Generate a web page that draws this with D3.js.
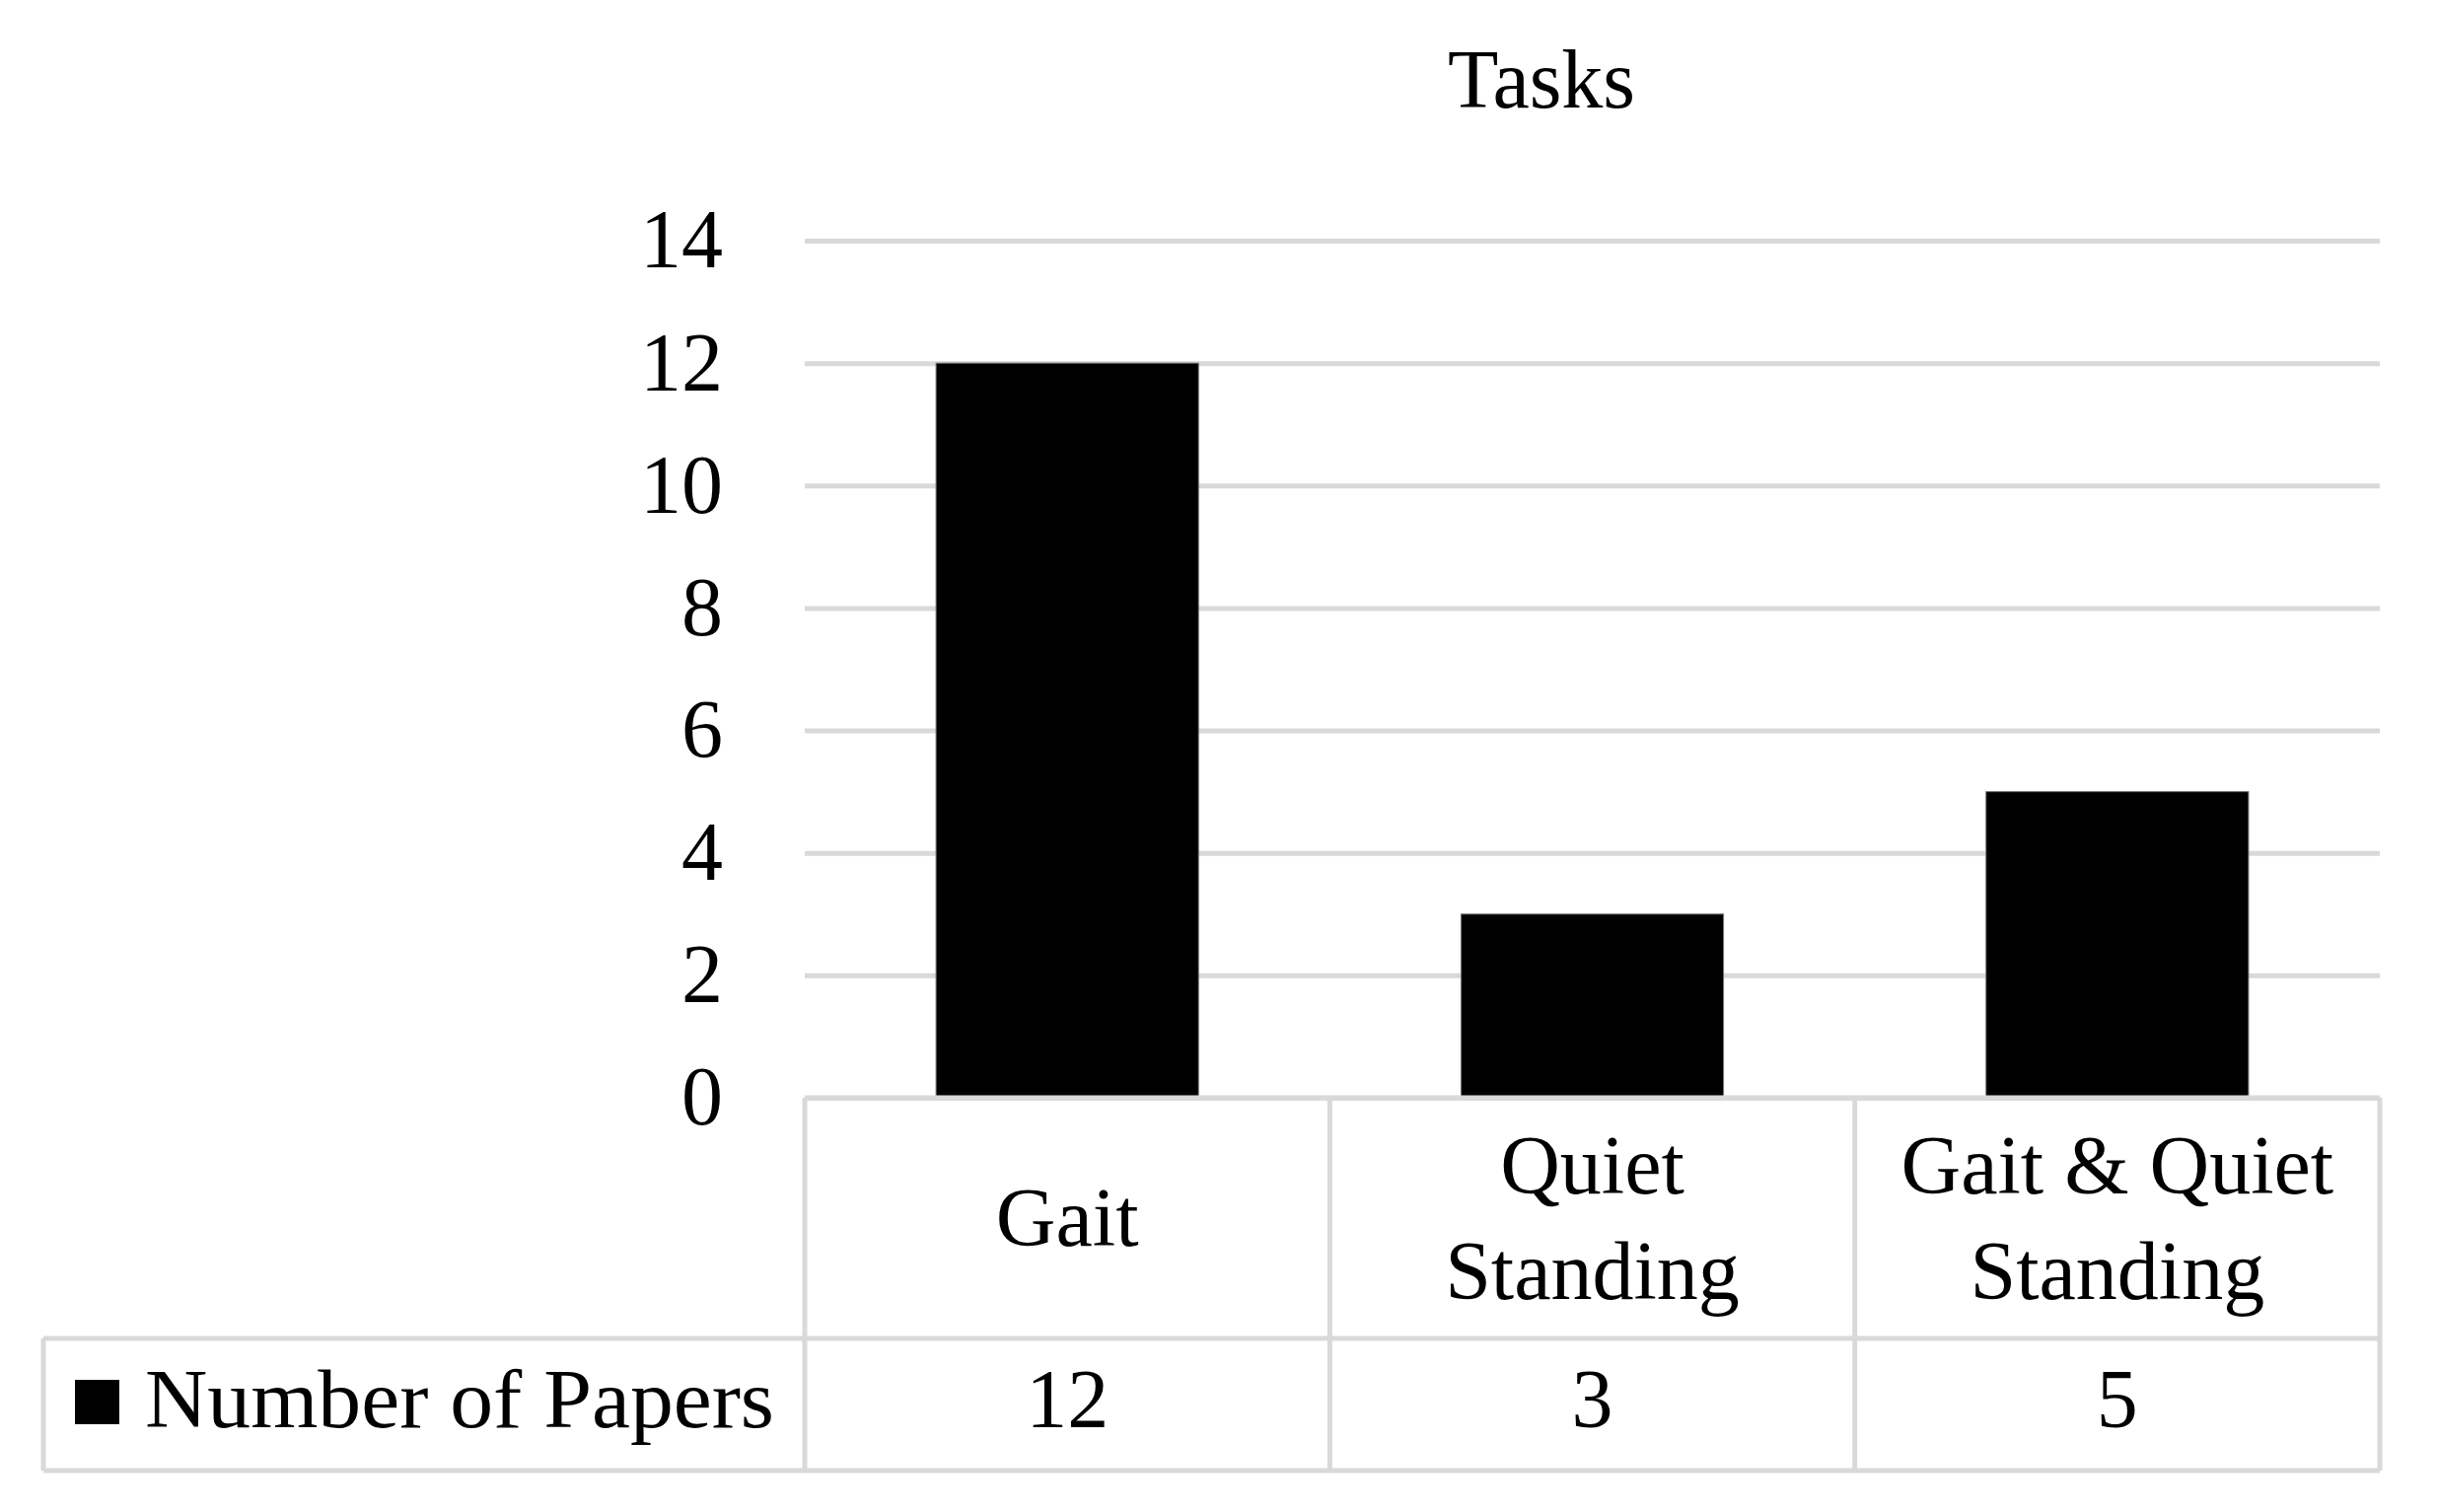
<!DOCTYPE html>
<html>
<head>
<meta charset="utf-8">
<script src="https://cdn.jsdelivr.net/npm/d3@7"></script>
<style>
  body { margin: 0; background: #fff; }
  text { font-family: 'Liberation Serif', 'DejaVu Serif', serif; fill: #000; }
</style>
</head>
<body>
<script>
// chart data
var categories = ['Gait', 'Quiet Standing', 'Gait & Quiet Standing']
var categoryLines = [['Gait'], ['Quiet', 'Standing'], ['Gait & Quiet', 'Standing']]
var papers = [12, 3, 5]
var yTicks = [0, 2, 4, 6, 8, 10, 12, 14]
var seriesName = 'Number of Papers'
var title = 'Tasks'

var W = 2471
var H = 1533
var plotLeft = 816
var plotRight = 2413
var plotTop = 244
var plotBottom = 1113
var rowSplit = 1357
var tableBottom = 1491
var legendLeft = 44
var fontSize = 84
var gridColor = '#d9d9d9'

var svg = d3.select('body').append('svg')
  .attr('width', W)
  .attr('height', H)

// scales
var y = d3.scaleLinear().domain([0, 14]).range([plotBottom, plotTop])
var col = d3.scaleBand().domain(categories).range([plotLeft, plotRight]).padding(0)
var xBar = d3.scaleBand().domain(categories).range([plotLeft, plotRight])
  .paddingInner(0.5).paddingOuter(0.25)

// gridlines
var grid = svg.append('g')
  .attr('transform', 'translate(' + plotLeft + ',0)')
  .call(d3.axisLeft(y).tickValues(yTicks).tickSize(-(plotRight - plotLeft)).tickFormat(''))
grid.select('.domain').remove()
grid.selectAll('.tick line')
  .attr('stroke', gridColor)
  .attr('stroke-width', 5)

// y axis labels
var yAxis = svg.append('g')
  .attr('transform', 'translate(' + plotLeft + ',0)')
  .call(d3.axisLeft(y).tickValues(yTicks).tickSize(0).tickPadding(83))
yAxis.select('.domain').remove()
yAxis.selectAll('text')
  .style('font-size', fontSize + 'px')
  .style('font-family', "'Liberation Serif', serif")
  .attr('fill', '#000')

// bars
svg.selectAll('.bar')
  .data(papers)
  .enter().append('rect')
  .attr('class', 'bar')
  .attr('x', function (d, i) { return xBar(categories[i]) })
  .attr('y', function (d) { return y(d) })
  .attr('width', xBar.bandwidth())
  .attr('height', function (d) { return y(0) - y(d) })
  .attr('fill', '#000')
  .attr('stroke', '#777')
  .attr('stroke-width', 1)

// title
svg.append('text')
  .attr('x', 1563)
  .attr('y', 109)
  .attr('text-anchor', 'middle')
  .style('font-size', fontSize + 'px')
  .text(title)

// data table lines
var table = svg.append('g')
  .attr('stroke', gridColor)
  .attr('stroke-width', 5)
  .attr('fill', 'none')

table.append('line').attr('x1', plotLeft).attr('x2', plotRight).attr('y1', plotBottom).attr('y2', plotBottom)
table.append('line').attr('x1', legendLeft).attr('x2', plotRight).attr('y1', rowSplit).attr('y2', rowSplit)
table.append('line').attr('x1', legendLeft).attr('x2', plotRight).attr('y1', tableBottom).attr('y2', tableBottom)
table.append('line').attr('x1', legendLeft).attr('x2', legendLeft).attr('y1', rowSplit).attr('y2', tableBottom)

var colEdges = categories.map(function (c) { return col(c) }).concat([plotRight])
table.selectAll('.vline')
  .data(colEdges)
  .enter().append('line')
  .attr('class', 'vline')
  .attr('x1', function (d) { return d })
  .attr('x2', function (d) { return d })
  .attr('y1', plotBottom)
  .attr('y2', tableBottom)

// category labels
var catG = svg.selectAll('.cat')
  .data(categoryLines)
  .enter().append('text')
  .attr('class', 'cat')
  .attr('text-anchor', 'middle')
  .style('font-size', fontSize + 'px')

catG.each(function (lines, i) {
  var cx = col(categories[i]) + col.bandwidth() / 2
  var lineH = 107
  var mid = (plotBottom + rowSplit) / 2
  var first = mid + 28 - (lines.length - 1) * lineH / 2
  d3.select(this).selectAll('tspan')
    .data(lines)
    .enter().append('tspan')
    .attr('x', cx)
    .attr('y', function (d, j) { return first + j * lineH })
    .text(function (d) { return d })
})

// values row
svg.selectAll('.val')
  .data(papers)
  .enter().append('text')
  .attr('class', 'val')
  .attr('x', function (d, i) { return col(categories[i]) + col.bandwidth() / 2 })
  .attr('y', 1447)
  .attr('text-anchor', 'middle')
  .style('font-size', fontSize + 'px')
  .text(function (d) { return d })

// legend key
svg.append('rect')
  .attr('x', 76)
  .attr('y', 1399)
  .attr('width', 45)
  .attr('height', 45)
  .attr('fill', '#000')

svg.append('text')
  .attr('x', 147)
  .attr('y', 1447)
  .attr('textLength', 638)
  .attr('lengthAdjust', 'spacingAndGlyphs')
  .style('font-size', fontSize + 'px')
  .text(seriesName)
</script>
</body>
</html>
